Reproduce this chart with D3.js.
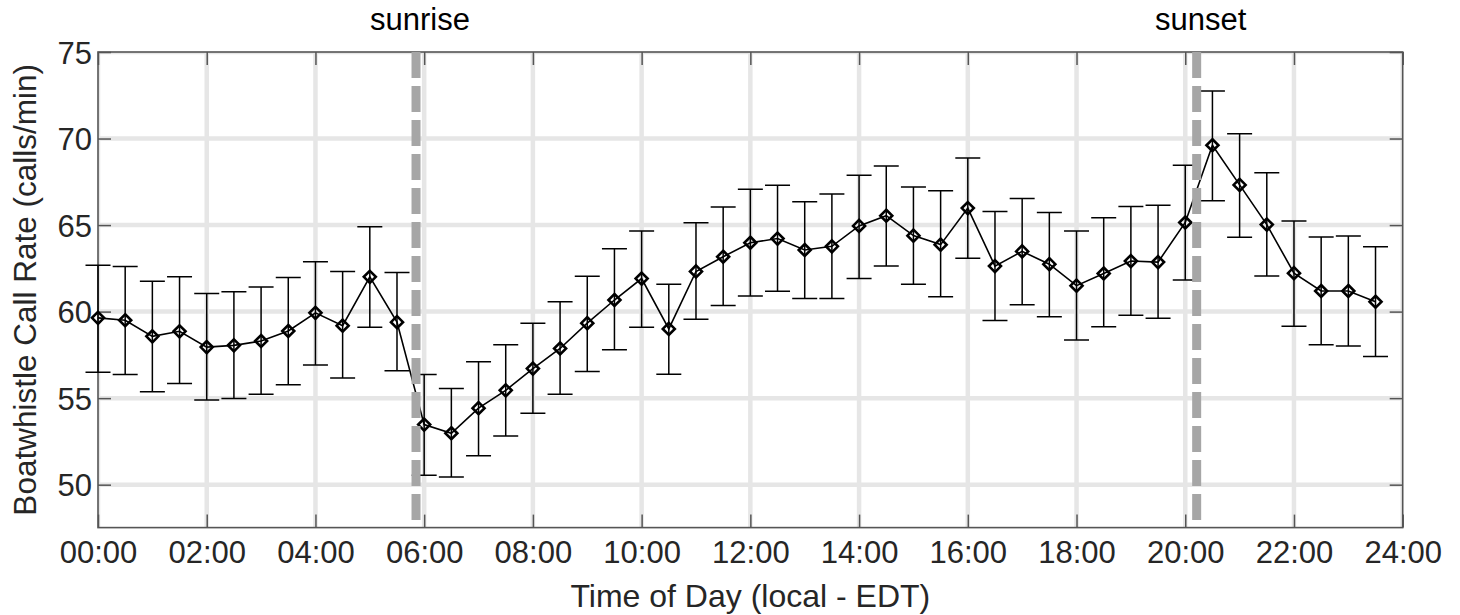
<!DOCTYPE html>
<html>
<head>
<meta charset="utf-8">
<script src="https://cdn.jsdelivr.net/npm/d3@7"></script>
<style>
  html, body { margin: 0; padding: 0; background: #fff; }
  svg { display: block; font-family: "Liberation Sans", Arial, sans-serif; }
</style>
</head>
<body>
<svg id="chart" width="1460" height="615"></svg>
<script>
// ---- data ----
const hours = [0, 0.5, 1, 1.5, 2, 2.5, 3, 3.5, 4, 4.5, 5, 5.5,
               6, 6.5, 7, 7.5, 8, 8.5, 9, 9.5, 10, 10.5, 11, 11.5,
               12, 12.5, 13, 13.5, 14, 14.5, 15, 15.5, 16, 16.5, 17, 17.5,
               18, 18.5, 19, 19.5, 20, 20.5, 21, 21.5, 22, 22.5, 23, 23.5];
const callRate = [59.64, 59.5, 58.57, 58.86, 57.95, 58.05, 58.3, 58.88, 59.93, 59.19, 62.01, 59.39,
                  53.47, 52.97, 54.42, 55.45, 56.71, 57.87, 59.33, 60.67, 61.91, 59.0, 62.32, 63.17,
                  63.98, 64.22, 63.56, 63.77, 64.95, 65.54, 64.39, 63.87, 65.98, 62.63, 63.48, 62.74,
                  61.5, 62.2, 62.92, 62.86, 65.15, 69.61, 67.32, 65.03, 62.22, 61.19, 61.19, 60.57];
const upperBound = [62.68, 62.6, 61.75, 62.01, 61.04, 61.15, 61.42, 61.97, 62.88, 62.32, 64.9, 62.26,
                    56.36, 55.55, 57.1, 58.09, 59.33, 60.57, 62.04, 63.63, 64.66, 61.58, 65.13, 66.04,
                    67.07, 67.3, 66.35, 66.8, 67.88, 68.41, 67.2, 66.99, 68.87, 65.79, 66.54, 65.73,
                    64.66, 65.42, 66.08, 66.14, 68.46, 72.75, 70.27, 68.02, 65.24, 64.31, 64.37, 63.75];
const lowerBound = [56.5, 56.36, 55.37, 55.84, 54.89, 54.98, 55.22, 55.78, 56.92, 56.17, 59.1, 56.58,
                    50.54, 50.45, 51.67, 52.81, 54.13, 55.22, 56.54, 57.8, 59.1, 56.38, 59.56, 60.36,
                    60.9, 61.17, 60.76, 60.76, 61.91, 62.63, 61.58, 60.86, 63.09, 59.48, 60.4, 59.7,
                    58.36, 59.12, 59.79, 59.62, 61.83, 66.41, 64.29, 62.06, 59.15, 58.09, 58.01, 57.41];
const xTickHours = [0, 2, 4, 6, 8, 10, 12, 14, 16, 18, 20, 22, 24];
const xTickLabels = ["00:00", "02:00", "04:00", "06:00", "08:00", "10:00", "12:00",
                     "14:00", "16:00", "18:00", "20:00", "22:00", "24:00"];
const yTicks = [50, 55, 60, 65, 70, 75];
const eventLabels = ["sunrise", "sunset"];
const eventHours = [5.85, 20.21];
const xLabel = "Time of Day (local - EDT)";
const yLabel = "Boatwhistle Call Rate (calls/min)";

// ---- layout ----
const L = 98, R = 1402.7, T = 52, B = 527.6;
const FS = 31;
const svg = d3.select("#chart");
const x = d3.scaleLinear().domain([0, 24]).range([L, R]);
const y = d3.scaleLinear().domain([47.52, 75]).range([B, T]);

svg.append("defs").append("clipPath").attr("id", "plotclip")
  .append("rect").attr("x", L).attr("y", T).attr("width", R - L).attr("height", B - T);

// grid
const grid = svg.append("g").attr("clip-path", "url(#plotclip)")
  .attr("stroke", "#e6e6e6").attr("stroke-width", 4.5);
grid.selectAll("line.v").data(xTickHours).join("line").attr("class", "v")
  .attr("x1", d => x(d)).attr("x2", d => x(d)).attr("y1", T).attr("y2", B);
grid.selectAll("line.h").data(yTicks).join("line").attr("class", "h")
  .attr("y1", d => y(d)).attr("y2", d => y(d)).attr("x1", L).attr("x2", R);

// axes
const tickCol = "#555";
function styleAxis(g) {
  g.select(".domain").remove();
  g.selectAll(".tick line").attr("stroke", tickCol).attr("stroke-width", 1.5);
  g.selectAll(".tick text").attr("fill", "#262626").attr("font-size", FS)
    .attr("font-family", "Liberation Sans, Arial, sans-serif");
}
const fmt = d => xTickLabels[xTickHours.indexOf(d)];
svg.append("g").attr("transform", `translate(0,${B})`)
  .call(d3.axisBottom(x).tickValues(xTickHours).tickFormat(fmt).tickSizeInner(-13).tickSizeOuter(0).tickPadding(13.4))
  .call(styleAxis);
svg.append("g").attr("transform", `translate(0,${T})`)
  .call(d3.axisTop(x).tickValues(xTickHours).tickFormat("").tickSizeInner(-13).tickSizeOuter(0))
  .call(styleAxis);
const gl = svg.append("g").attr("transform", `translate(${L},0)`)
  .call(d3.axisLeft(y).tickValues(yTicks).tickFormat(d3.format("d")).tickSizeInner(-13).tickSizeOuter(0).tickPadding(6))
  .call(styleAxis);
gl.selectAll(".tick text").attr("dy", "0.36em");
svg.append("g").attr("transform", `translate(${R},0)`)
  .call(d3.axisRight(y).tickValues(yTicks).tickFormat("").tickSizeInner(-13).tickSizeOuter(0))
  .call(styleAxis);

// box
svg.append("rect").attr("x", L).attr("y", T).attr("width", R - L).attr("height", B - T)
  .attr("fill", "none").attr("stroke", tickCol).attr("stroke-width", 1.6);

// data
const pts = hours.map((h, i) => ({h, m: callRate[i], lo: lowerBound[i], hi: upperBound[i]}));
const eb = svg.append("g").attr("stroke", "#000").attr("stroke-width", 1.5).attr("fill", "none");
const capW = 12.5;
eb.selectAll("path").data(pts).join("path")
  .attr("d", d => {
    const p = d3.path();
    const cx = x(d.h);
    p.moveTo(cx, y(d.lo)); p.lineTo(cx, y(d.hi));
    p.moveTo(cx - capW, y(d.hi)); p.lineTo(cx + capW, y(d.hi));
    p.moveTo(cx - capW, y(d.lo)); p.lineTo(cx + capW, y(d.lo));
    return p.toString();
  });
svg.append("path").datum(pts)
  .attr("fill", "none").attr("stroke", "#000").attr("stroke-width", 1.6)
  .attr("d", d3.line().x(d => x(d.h)).y(d => y(d.m)));
const r = 6;
svg.append("g").selectAll("path").data(pts).join("path")
  .attr("transform", d => `translate(${x(d.h)},${y(d.m)})`)
  .attr("d", `M0,${-r}L${r},0L0,${r}L${-r},0Z`)
  .attr("fill", "none").attr("stroke", "#000").attr("stroke-width", 2.6);

// event lines
svg.append("g").selectAll("line").data(eventHours).join("line")
  .attr("x1", d => x(d)).attr("x2", d => x(d)).attr("y1", T).attr("y2", B)
  .attr("stroke", "#a6a6a6").attr("stroke-width", 9).attr("stroke-dasharray", "26,8");
svg.append("g").selectAll("text").data(eventHours).join("text")
  .attr("x", d => x(d) + 4).attr("y", 30).attr("text-anchor", "middle")
  .attr("font-size", FS).attr("fill", "#000")
  .text((d, i) => eventLabels[i]);

// axis labels
svg.append("text").attr("x", (L + R) / 2).attr("y", 607).attr("text-anchor", "middle")
  .attr("font-size", 32).attr("fill", "#262626").text(xLabel);
svg.append("text").attr("transform", `translate(36,${(T + B) / 2}) rotate(-90)`)
  .attr("text-anchor", "middle").attr("font-size", 31.5).attr("fill", "#262626").text(yLabel);
</script>
</body>
</html>
